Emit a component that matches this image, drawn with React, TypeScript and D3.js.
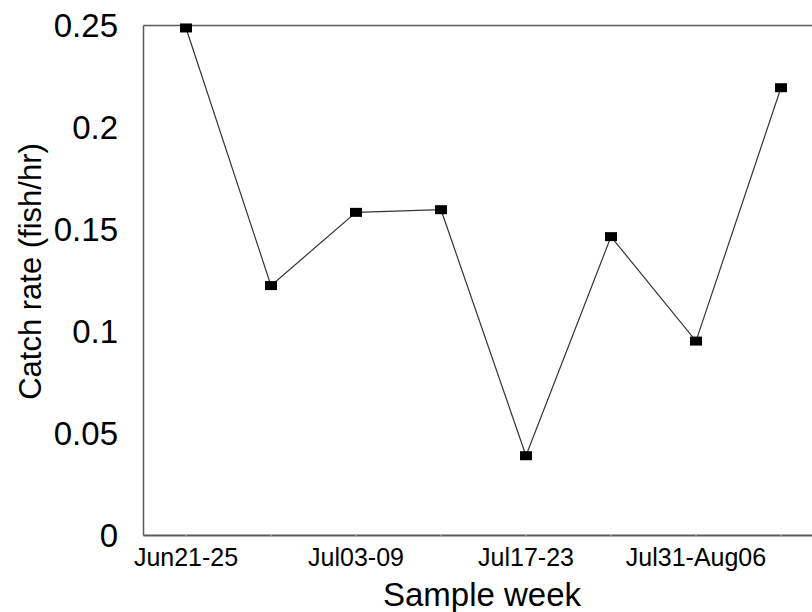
import React from "react";
import * as d3 from "d3";

const weeks = ["Jun21-25", "Jun26-Jul02", "Jul03-09", "Jul10-16", "Jul17-23", "Jul24-30", "Jul31-Aug06", "Aug07-13"];
const catchRate = [0.2488, 0.1225, 0.1584, 0.1597, 0.0391, 0.1465, 0.0953, 0.2195];
const shownLabels = ["Jun21-25", "Jul03-09", "Jul17-23", "Jul31-Aug06"];
const yTicks = [0, 0.05, 0.1, 0.15, 0.2, 0.25];

export default function App() {
  const W = 812, H = 612;
  const left = 143.5, top = 25.5, bottom = 535.5;
  const band = 85;
  const right = left + band * weeks.length;
  const x = d3.scalePoint<string>().domain(weeks).range([left, right]).padding(0.5);
  const y = d3.scaleLinear().domain([0, 0.25]).range([bottom, top]);
  const line = d3.line<number>().x((_, i) => x(weeks[i]) as number).y((d) => y(d));
  const font = "Arial, 'Liberation Sans', sans-serif";
  const axisColor = "#5a5a5a";

  return (
    <svg width={W} height={H} style={{ position: "absolute", left: 0, top: 0, background: "#fff" }} fontFamily={font}>
      <rect x={0} y={0} width={W} height={H} fill="#fff" />
      {/* frame */}
      <line x1={left} x2={right} y1={top} y2={top} stroke={axisColor} strokeWidth={1.5} />
      <line x1={left} x2={left} y1={top} y2={bottom} stroke={axisColor} strokeWidth={1.5} />
      <line x1={left} x2={right} y1={bottom} y2={bottom} stroke={axisColor} strokeWidth={1.8} />
      <line x1={right} x2={right} y1={top} y2={bottom} stroke={axisColor} strokeWidth={1.5} />
      {weeks.map((w) => (
        <line key={w} x1={x(w)} x2={x(w)} y1={bottom - 1} y2={bottom + 1} stroke="#bbb" strokeWidth={1} />
      ))}
      {/* y tick labels */}
      {yTicks.map((t) => (
        <text key={t} x={118} y={y(t)} textAnchor="end" dominantBaseline="central" fontSize={33} fill="#000">
          {String(t)}
        </text>
      ))}
      {/* x tick labels */}
      {shownLabels.map((w) => (
        <text key={w} x={x(w)} y={566} textAnchor="middle" fontSize={25} fill="#000">
          {w}
        </text>
      ))}
      {/* axis titles */}
      <text x={482} y={606} textAnchor="middle" fontSize={33} fill="#000">Sample week</text>
      <text transform={`translate(41, ${(top + bottom) / 2 - 9}) rotate(-90)`} textAnchor="middle" fontSize={31} fill="#000">
        Catch rate (fish/hr)
      </text>
      {/* line */}
      <path d={line(catchRate) || ""} fill="none" stroke="#333" strokeWidth={1.2} />
      {catchRate.map((v, i) => (
        <rect key={i} x={(x(weeks[i]) as number) - 6} y={y(v) - 4.5} width={12} height={9} fill="#000" />
      ))}
    </svg>
  );
}
